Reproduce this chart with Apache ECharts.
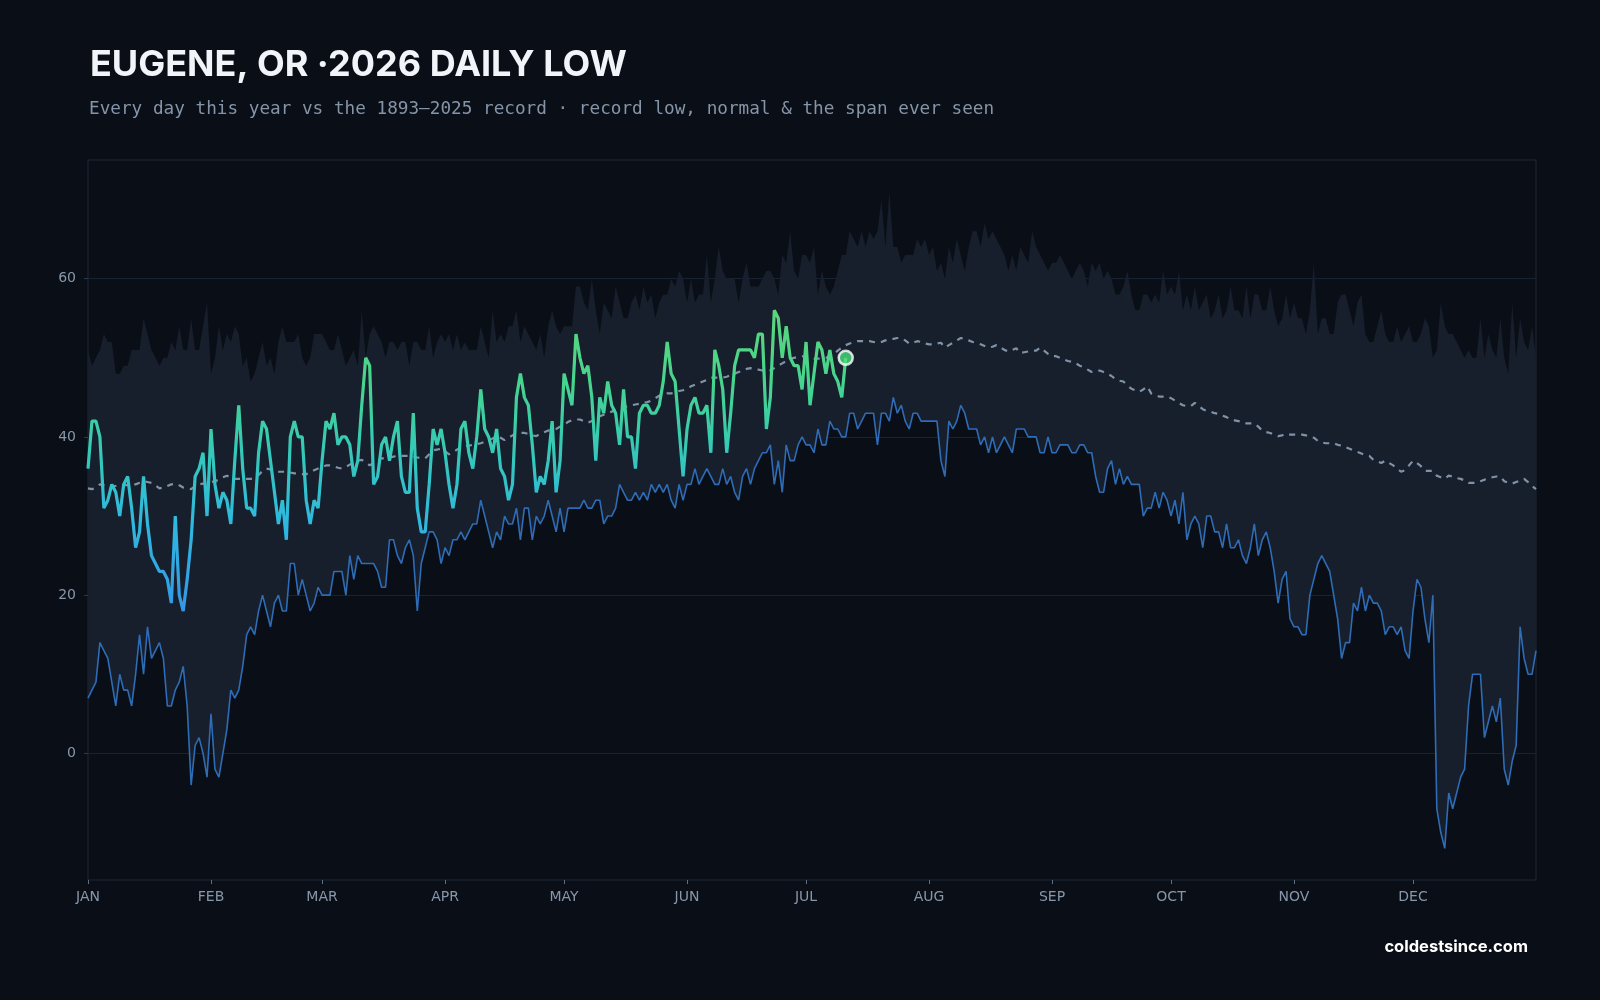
<!DOCTYPE html>
<html>
<head>
<meta charset="utf-8">
<script src="https://cdn.jsdelivr.net/npm/echarts@6/dist/echarts.min.js"></script>
<style>
html,body{margin:0;padding:0;background:#0a0e16;}
#chart{width:1600px;height:1000px;}
</style>
</head>
<body>
<div id="chart"></div>
<script>
// ---- tick labels ----
const MONTH_LABELS = ['JAN','FEB','MAR','APR','MAY','JUN','JUL','AUG','SEP','OCT','NOV','DEC'];
const MONTH_START = [0,31,59,90,120,151,181,212,243,273,304,334];
const Y_TICKS = [0,20,40,60];

// ---- record low (1893-2025), one value per day slot ----
const RECORD_LOW = [
7,8,9,14,13,12,9,6,10,8,
8,6,10,15,10,16,12,13,14,12,
6,6,8,9,11,6,-4,1,2,0,
-3,5,-2,-3,0,3,8,7,8,11,
15,16,15,18,20,18,16,19,20,18,
18,24,24,20,22,20,18,19,21,20,
20,20,23,23,23,20,25,22,25,24,
24,24,24,23,21,21,27,27,25,24,
26,27,25,18,24,26,28,28,27,24,
26,25,27,27,28,27,28,29,29,32,
30,28,26,28,27,30,29,29,31,27,
31,31,27,30,29,30,32,30,28,31,
28,31,31,31,31,32,31,31,32,32,
29,30,30,31,34,33,32,32,33,32,
33,32,34,33,34,33,34,32,31,34,
32,34,34,36,34,35,36,35,34,34,
36,34,35,33,32,35,36,34,36,37,
38,38,39,34,37,33,39,37,37,39,
40,39,39,38,41,39,39,42,41,41,
40,40,43,43,41,42,43,43,43,39,
43,43,42,45,43,44,42,41,43,43,
42,42,42,42,42,37,35,42,41,42,
44,43,41,41,41,39,40,38,40,38,
39,40,39,38,41,41,41,40,40,40,
38,38,40,38,38,39,39,39,38,38,
39,39,38,38,35,33,33,36,37,34,
36,34,35,34,34,34,30,31,31,33,
31,33,32,30,32,29,33,27,29,30,
29,26,30,30,28,28,26,29,26,26,
27,25,24,26,29,25,27,28,26,23,
19,22,23,17,16,16,15,15,20,22,
24,25,24,23,20,17,12,14,14,19,
18,21,18,20,19,19,18,15,16,16,
15,16,13,12,18,22,21,17,14,20,
-7,-10,-12,-5,-7,-5,-3,-2,6,10,
10,10,2,4,6,4,7,-2,-4,-1,
1,16,12,10,10,13
];

// ---- highest daily low ever seen (top of the span) ----
const RECORD_HIGH_LOW = [
51,49,50,51,53,52,52,48,48,49,
49,51,51,51,55,53,51,50,49,50,
50,52,51,54,51,51,55,51,51,54,
57,48,50,54,51,53,52,54,53,49,
50,47,48,50,52,49,50,48,52,54,
52,52,52,53,50,49,50,53,53,53,
52,51,51,53,51,49,50,51,49,56,
50,53,54,53,52,50,52,52,51,52,
52,49,52,52,51,51,54,50,52,53,
52,53,51,53,51,52,51,51,51,54,
52,50,56,52,53,52,54,54,56,52,
54,53,52,51,53,50,54,56,54,53,
54,54,54,59,59,57,56,60,56,53,
57,56,55,59,57,55,55,57,58,56,
59,57,58,55,57,58,58,60,59,61,
60,57,60,57,58,58,63,57,60,64,
61,60,60,60,57,60,62,59,59,59,
60,61,61,60,58,63,62,66,61,60,
63,63,62,64,58,61,59,58,59,61,
63,63,66,65,64,66,64,66,65,66,
70,64,71,64,64,62,63,63,63,65,
64,65,63,64,61,62,60,64,62,65,
63,61,64,66,66,64,67,65,66,65,
64,63,61,63,61,64,63,62,66,64,
63,62,61,62,62,63,62,61,60,61,
62,61,59,62,61,62,60,61,60,58,
58,59,61,58,56,56,58,58,57,58,
57,61,58,59,58,61,56,58,56,59,
56,57,58,55,56,58,55,56,59,56,
56,55,59,55,58,58,56,56,59,56,
54,55,58,55,57,55,55,53,56,62,
53,55,55,53,53,57,58,58,56,54,
57,58,53,52,52,54,56,53,52,52,
54,52,53,54,52,52,53,55,54,50,
51,57,54,53,53,52,51,50,51,50,
50,55,50,53,51,50,55,50,48,57,
50,55,52,51,54,50
];

// ---- normal daily low ----
const NORMAL_LOW = [
33.5,33.4,33.6,34.0,33.9,33.8,33.8,33.8,33.9,33.9,
33.9,34.0,34.0,34.2,34.4,34.3,34.2,33.9,33.5,33.6,
33.8,34.0,34.1,33.9,33.6,33.5,33.4,33.8,34.0,34.1,
34.1,34.3,34.4,34.6,34.9,35.1,34.9,34.7,34.7,34.7,
34.7,34.7,34.8,35.2,35.7,36.0,35.9,35.7,35.6,35.6,
35.6,35.5,35.4,35.4,35.3,35.3,35.5,35.8,36.0,36.2,
36.4,36.4,36.3,36.1,36.0,36.2,36.5,36.8,37.0,37.1,
36.8,36.4,36.7,37.0,37.3,37.3,37.4,37.5,37.6,37.6,
37.6,37.6,37.5,37.4,37.3,37.3,37.8,38.3,38.4,38.5,
38.2,37.8,38.0,38.4,38.7,38.8,38.9,39.0,39.1,39.2,
39.4,39.6,39.8,40.1,39.9,39.6,39.9,40.2,40.4,40.5,
40.5,40.4,40.2,40.1,40.4,40.6,40.8,40.9,41.0,41.3,
41.5,41.9,42.1,42.2,42.2,42.0,41.8,42.0,42.3,42.6,
42.8,43.0,43.2,43.4,43.5,43.7,43.9,44.0,44.1,44.2,
44.3,44.4,44.6,44.9,45.2,45.4,45.5,45.5,45.6,45.8,
45.9,46.1,46.4,46.6,46.8,47.0,47.2,47.5,47.5,47.5,
47.5,47.6,47.8,48.0,48.2,48.4,48.6,48.7,48.6,48.5,
48.4,48.4,48.4,48.7,49.0,49.3,49.6,49.9,50.0,50.1,
50.2,50.1,50.0,49.9,49.9,49.9,50.0,50.2,50.5,50.9,
51.3,51.6,51.8,52.0,52.1,52.1,52.1,52.1,52.0,51.9,
52.0,52.2,52.3,52.4,52.5,52.5,52.2,51.8,51.9,52.1,
52.0,51.8,51.7,51.7,51.8,51.9,51.3,51.6,51.9,52.2,
52.5,52.4,52.2,52.0,51.9,51.7,51.5,51.3,51.4,51.6,
51.3,51.0,50.8,51.0,51.2,50.6,50.7,50.8,50.9,50.9,
51.3,50.9,50.5,50.2,50.2,50.0,49.8,49.6,49.5,49.3,
49.0,48.8,48.5,48.2,48.3,48.4,48.2,48.0,47.7,47.3,
47.1,47.0,46.5,46.1,45.9,45.7,46.0,46.4,45.5,45.3,
45.1,45.1,45.1,44.9,44.6,44.3,44.0,43.9,43.9,44.3,
43.9,43.5,43.3,43.2,43.0,42.9,42.7,42.5,42.2,42.1,
42.0,41.9,41.7,41.7,41.7,41.3,40.8,40.6,40.5,40.3,
40.1,40.2,40.4,40.3,40.3,40.3,40.3,40.2,40.0,39.9,
39.5,39.3,39.2,39.2,39.2,39.0,38.9,38.7,38.5,38.3,
38.1,37.9,37.7,37.6,37.1,36.9,36.7,37.0,36.7,36.4,
36.0,35.6,35.8,36.4,37.0,36.7,36.3,35.7,35.7,35.7,
35.1,34.9,34.7,35.1,35.0,34.8,34.7,34.5,34.2,34.2,
34.2,34.4,34.6,34.8,34.9,35.0,35.0,34.4,34.2,34.1,
34.3,34.5,34.7,34.3,33.8,33.4
];

// ---- 2026 daily lows (Jan 1 .. Jul 11) ----
const LOW_2026 = [
36,42,42,40,31,32,34,33,30,34,
35,31,26,28,35,29,25,24,23,23,
22,19,30,20,18,22,27,35,36,38,
30,41,34,31,33,32,29,37,44,36,
31,31,30,38,42,41,37,33,29,32,
27,40,42,40,40,32,29,32,31,37,
42,41,43,39,40,40,39,35,37,44,
50,49,34,35,39,40,37,40,42,35,
33,33,43,31,28,28,34,41,39,41,
38,34,31,34,41,42,38,36,40,46,
41,40,38,41,36,35,32,34,45,48,
45,44,39,33,35,34,37,42,33,37,
48,46,44,53,50,48,49,45,37,45,
43,47,44,43,39,46,40,40,36,43,
44,44,43,43,44,47,52,48,47,41,
35,41,44,45,43,43,44,38,51,49,
46,38,43,49,51,51,51,51,50,53,
53,41,45,56,55,50,54,50,49,49,
46,52,44,48,52,51,48,51,48,47,
45,50
];

const DAYS = RECORD_LOW.map((_, i) => i);
const SPAN = RECORD_HIGH_LOW.map((v, i) => v - RECORD_LOW[i]);
const LAST_IDX = LOW_2026.length - 1;

const chart = echarts.init(document.getElementById('chart'), null, {renderer: 'canvas'});

const AXIS_TXT = '#8797ab';
const option = {
  backgroundColor: '#0a0e16',
  animation: false,
  title: [
    {
      text: 'EUGENE, OR ·2026 DAILY LOW',
      left: 85, top: 42,
      textStyle: {color: '#f1f5f9', fontFamily: 'Inter', fontWeight: 700, fontSize: 36}
    },
    {
      text: 'Every day this year vs the 1893\u20132025 record \u00b7 record low, normal & the span ever seen',
      left: 84, top: 95,
      textStyle: {color: '#8595a9', fontFamily: 'DejaVu Sans Mono', fontWeight: 400, fontSize: 17.7}
    },
    {
      text: 'coldestsince.com',
      right: 67, top: 934,
      textStyle: {color: '#ffffff', fontFamily: 'Inter', fontWeight: 700, fontSize: 16.5}
    }
  ],
  grid: {
    left: 88, right: 64, top: 160, bottom: 120,
    show: true, borderColor: '#1c2838', borderWidth: 1, backgroundColor: 'transparent'
  },
  xAxis: {
    type: 'category',
    data: DAYS,
    boundaryGap: false,
    axisLine: {show: false, onZero: false},
    axisTick: {
      show: true, length: 4, inside: false,
      interval: (i) => MONTH_START.indexOf(i) >= 0,
      lineStyle: {color: '#5d6f85', width: 1}
    },
    axisLabel: {
      interval: (i) => MONTH_START.indexOf(i) >= 0,
      formatter: (v, i) => MONTH_LABELS[MONTH_START.indexOf(Number(v))] || '',
      color: AXIS_TXT, fontFamily: 'DejaVu Sans', fontSize: 14, margin: 10
    },
    splitLine: {show: false}
  },
  yAxis: {
    type: 'value',
    min: -16, max: 75,
    axisLine: {show: false},
    axisTick: {show: true, length: 4, customValues: Y_TICKS, lineStyle: {color: '#2a3a4e'}},
    axisLabel: {customValues: Y_TICKS, color: AXIS_TXT, fontFamily: 'DejaVu Sans', fontSize: 14, margin: 12},
    splitLine: {show: true, lineStyle: {color: '#172232', width: 1}}
  },
  series: [
    {
      name: 'base', type: 'line', data: RECORD_LOW, stack: 'span', stackStrategy: 'all',
      symbol: 'none', silent: true, lineStyle: {width: 0, opacity: 0}, z: 1
    },
    {
      name: 'span', type: 'line', data: SPAN, stack: 'span', stackStrategy: 'all',
      symbol: 'none', silent: true, lineStyle: {width: 0, opacity: 0},
      areaStyle: {color: '#161f2b', opacity: 1}, z: 1
    },
    {
      name: 'Record low', type: 'line', data: RECORD_LOW, symbol: 'none',
      lineStyle: {color: '#2f6cb6', width: 1.6}, z: 3
    },
    {
      name: 'Normal', type: 'line', data: NORMAL_LOW, symbol: 'none', smooth: false,
      lineStyle: {color: '#8092a8', width: 2.2, type: [6, 6]}, z: 4
    },
    {
      name: '2026', type: 'line', data: LOW_2026, symbol: 'none',
      lineStyle: {
        width: 3.2,
        color: new echarts.graphic.LinearGradient(0, 0, 0, 1, [
          {offset: 0, color: '#5cd67a'},
          {offset: 0.25, color: '#46d48f'},
          {offset: 0.45, color: '#36cab5'},
          {offset: 0.7, color: '#2fb9df'},
          {offset: 1, color: '#3496e6'}
        ])
      },
      z: 5
    },
    {
      name: 'today', type: 'scatter',
      data: [[LAST_IDX, LOW_2026[LAST_IDX]]],
      symbol: 'circle', symbolSize: 14,
      itemStyle: {color: '#4ade80', borderColor: '#ffffff', borderWidth: 2.5},
      z: 6
    }
  ]
};
chart.setOption(option);
</script>
</body>
</html>
